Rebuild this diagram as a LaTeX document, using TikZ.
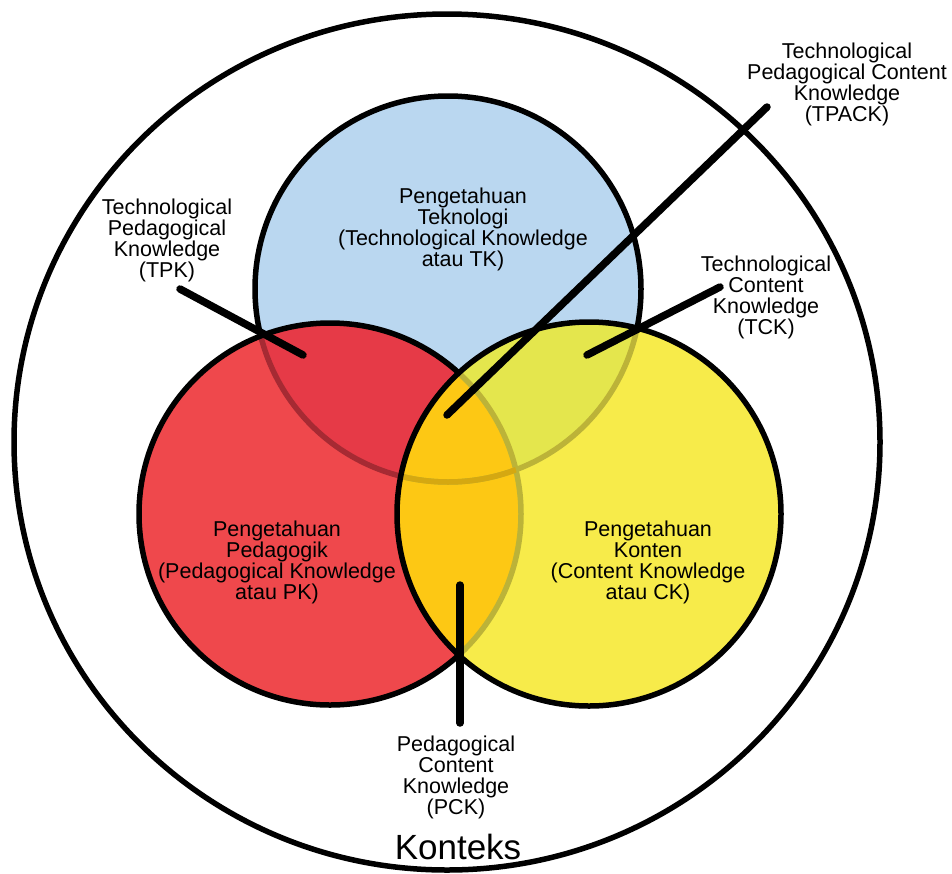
\documentclass[tikz,border=0pt]{standalone}
\usepackage{fontspec}
\setmainfont{Liberation Sans}
\definecolor{tkblue}{RGB}{186,215,240}
\definecolor{pkred}{RGB}{239,72,76}
\definecolor{tpkred}{RGB}{230,58,71}
\definecolor{ckyellow}{RGB}{247,235,74}
\definecolor{tckyellow}{RGB}{228,230,77}
\definecolor{pckorange}{RGB}{253,200,20}
\tikzset{
  rim/.style={draw=black, line width=5.5pt},
  faded/.style={line width=5.5pt},
  pointer/.style={draw=black, line width=7.5pt, line cap=round},
  lbl/.style={align=center, inner sep=0pt, font=\fontsize{21.5}{21}\selectfont},
}
\begin{document}
\begin{tikzpicture}[x=1pt, y=-1pt]
\useasboundingbox (0,0) rectangle (952,873);
\fill[white] (0,0) rectangle (952,873);
% centres
\coordinate (cT) at (448,289);
\coordinate (cP) at (330,514);
\coordinate (cC) at (589,514);
\def\rT{193pt}\def\rP{191pt}\def\rC{192pt}
% context
\draw[line width=5.5pt] (447,442) ellipse [x radius=433pt, y radius=428pt];
% TK
\fill[tkblue] (cT) circle[radius=\rT];
\draw[rim] (cT) circle[radius=\rT];
% PK
\fill[pkred] (cP) circle[radius=\rP];
\begin{scope}
  \clip (cP) circle[radius=\rP];
  \fill[tpkred] (cT) circle[radius=\rT];
  \draw[faded, draw=tpkred!72!black] (cT) circle[radius=\rT];
\end{scope}
\draw[rim] (cP) circle[radius=\rP];
% CK
\fill[ckyellow] (cC) circle[radius=\rC];
\begin{scope}
  \clip (cC) circle[radius=\rC];
  \fill[tckyellow] (cT) circle[radius=\rT];
  \fill[pckorange] (cP) circle[radius=\rP];
  \draw[faded, draw=ckyellow!76!black] (cT) circle[radius=\rT];
  \draw[faded, draw=ckyellow!76!black] (cP) circle[radius=\rP];
  \begin{scope}
    \clip (cP) circle[radius=\rP];
    \draw[faded, draw=pckorange!84!black] (cT) circle[radius=\rT];
  \end{scope}
\end{scope}
\draw[rim] (cC) circle[radius=\rC];
% labels
\node[lbl] (tk) at (463,229) {Pengetahuan\\Teknologi\\(Technological Knowledge\\atau TK)};
\node[lbl] (pk) at (277,562) {Pengetahuan\\Pedagogik\\(Pedagogical Knowledge\\atau PK)};
\node[lbl] (ck) at (648,562) {Pengetahuan\\Konten\\(Content Knowledge\\atau CK)};
\node[lbl] (tpk) at (167,240) {Technological\\Pedagogical\\Knowledge\\(TPK)};
\node[lbl] (tpack) at (847,84) {Technological\\Pedagogical Content\\Knowledge\\(TPACK)};
\node[lbl] (tck) at (766,297) {Technological\\Content\\Knowledge\\(TCK)};
\node[lbl] (pck) at (456,777) {Pedagogical\\Content\\Knowledge\\(PCK)};
\node[inner sep=0pt, font=\fontsize{35}{36}\selectfont] (ctx) at (458,847) {Konteks};
% pointer ends
\coordinate (tpkA) at (180,289);
\coordinate (tpkB) at (303,355);
\coordinate (tpackA) at (767,107);
\coordinate (tpackB) at (447,415);
\coordinate (tckA) at (720,287);
\coordinate (tckB) at (587,355);
\coordinate (pckA) at (460,585);
\coordinate (pckB) at (460,723);
\draw[pointer] (tpkA) -- (tpkB);
\draw[pointer] (tpackA) -- (tpackB);
\draw[pointer] (tckA) -- (tckB);
\draw[pointer] (pckA) -- (pckB);
\end{tikzpicture}
\end{document}
